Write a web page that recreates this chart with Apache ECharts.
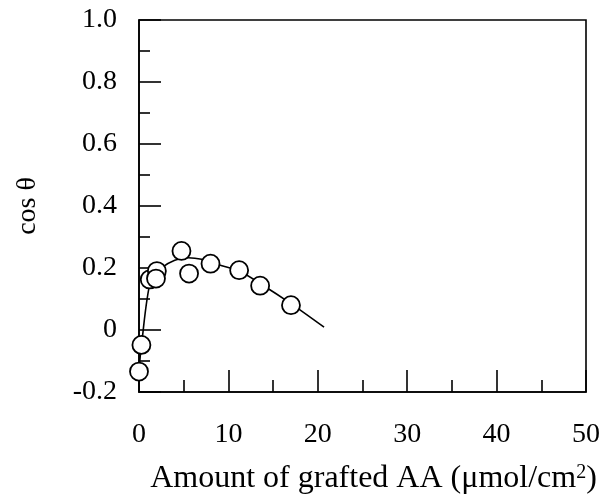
<!DOCTYPE html>
<html><head><meta charset="utf-8">
<script src="https://cdn.jsdelivr.net/npm/echarts@6/dist/echarts.min.js"></script>
<style>html,body{margin:0;padding:0;background:#fff}#c{width:605px;height:500px}</style>
</head><body><div id="c"></div>
<script>
var pointX = [0.0, 0.27, 1.2, 2.0, 1.9, 4.75, 5.6, 8.0, 11.2, 13.55, 17.0];
var pointY = [-0.134, -0.048, 0.163, 0.19, 0.166, 0.255, 0.182, 0.214, 0.193, 0.143, 0.080];
var curveX = [0.0, 0.27, 1.3, 2.5, 4.0, 5.5, 7.0, 9.0, 11.2, 13.55, 17.0, 20.7];
var curveY = [-0.13, -0.05, 0.16, 0.2, 0.225, 0.233, 0.228, 0.21, 0.19, 0.15, 0.085, 0.009];
var xTicks = {min: 0, max: 50, interval: 10};
var yTicks = {min: -0.2, max: 1.0, interval: 0.2};

function zip(a, b) { return a.map(function (v, i) { return [v, b[i]]; }); }
var font = 'Liberation Serif';
var chart = echarts.init(document.getElementById('c'), null, {renderer: 'canvas'});
chart.setOption({
  animation: false,
  grid: {left: 139, right: 19, top: 20, bottom: 107, show: true, borderColor: '#000', borderWidth: 1.6, backgroundColor: 'transparent'},
  xAxis: {
    type: 'value', min: xTicks.min, max: xTicks.max, interval: xTicks.interval,
    axisLine: {onZero: false, lineStyle: {color: '#000', width: 1.6}},
    axisTick: {inside: true, length: 22, lineStyle: {color: '#000', width: 1.6}},
    minorTick: {show: true, splitNumber: 2, length: 12, lineStyle: {color: '#000', width: 1.6}},
    splitLine: {show: false},
    axisLabel: {color: '#000', fontFamily: font, fontSize: 28, margin: 29},
    name: 'Amount of grafted AA (μmol/cm{sup|2})',
    nameLocation: 'middle', nameGap: 71,
    nameTextStyle: {color: '#000', fontFamily: font, fontSize: 32, padding: [0, 0, 0, 22],
      rich: {sup: {fontFamily: font, fontSize: 20, verticalAlign: 'top', color: '#000', padding: [0, 0, 12, 0]}}}
  },
  yAxis: {
    type: 'value', min: yTicks.min, max: yTicks.max, interval: yTicks.interval,
    axisLine: {onZero: false, lineStyle: {color: '#000', width: 1.6}},
    axisTick: {inside: true, length: 22, lineStyle: {color: '#000', width: 1.6}},
    minorTick: {show: true, splitNumber: 2, length: 11, lineStyle: {color: '#000', width: 1.6}},
    splitLine: {show: false},
    axisLabel: {color: '#000', fontFamily: font, fontSize: 28, margin: 22,
      formatter: function (v) { return Math.abs(v) < 1e-9 ? '0' : v.toFixed(1); }},
    name: 'cos θ', nameLocation: 'middle', nameGap: 97, nameRotate: 90,
    nameTextStyle: {color: '#000', fontFamily: font, fontSize: 28}
  },
  series: [
    {type: 'line', data: zip(curveX, curveY), smooth: 0.3, showSymbol: false, symbol: 'none',
      lineStyle: {color: '#000', width: 1.6}, z: 2},
    {type: 'scatter', data: zip(pointX, pointY), symbol: 'circle', symbolSize: 18,
      itemStyle: {color: '#fff', borderColor: '#000', borderWidth: 1.8, opacity: 1}, z: 3}
  ]
});
</script></body></html>
